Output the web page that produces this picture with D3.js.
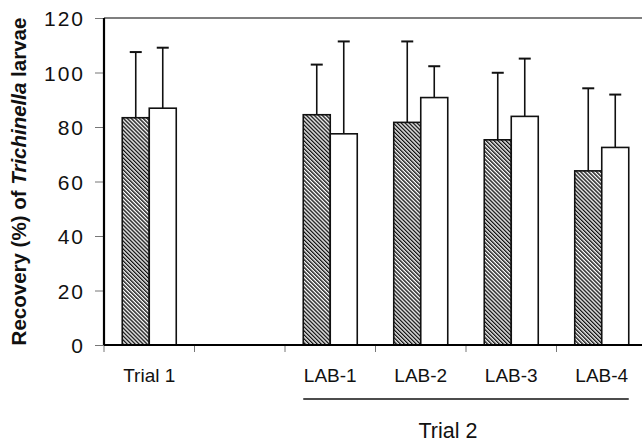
<!DOCTYPE html>
<html>
<head>
<meta charset="utf-8">
<script src="https://cdn.jsdelivr.net/npm/d3@7"></script>
<style>
  body { margin: 0; background: #fff; }
  text { font-family: "Liberation Sans", Arial, sans-serif; fill: #111; }
</style>
</head>
<body>
<div class="graph"></div>
<script>
// categories along the x axis (the blank one is the gap between trials)
var categories = ['Trial 1', '', 'LAB-1', 'LAB-2', 'LAB-3', 'LAB-4'];
var trial2 = ['LAB-1', 'LAB-2', 'LAB-3', 'LAB-4'];

// hatched series and open series, with the upper end of the error bars
var hatched = [83.4, null, 84.5, 81.7, 75.3, 63.9];
var hatchedErr = [107.5, null, 102.9, 111.4, 99.9, 94.2];
var open = [86.9, null, 77.5, 90.8, 83.9, 72.5];
var openErr = [109.1, null, 111.4, 102.3, 105.1, 91.9];

var yTicks = [0, 20, 40, 60, 80, 100, 120];

var width = 642, height = 443;
// note: "top" is taken by window.top, so use plot* names
var plotLeft = 104, plotRight = 647, plotTop = 18, plotBottom = 345;
var barW = 27;

var svg = d3.select('.graph')
  .append('svg')
  .attr('width', width)
  .attr('height', height);

// diagonal hatch fill
var pat = svg.append('defs').append('pattern')
  .attr('id', 'hatch')
  .attr('patternUnits', 'userSpaceOnUse')
  .attr('width', 2.8)
  .attr('height', 10)
  .attr('patternTransform', 'rotate(-45)');
pat.append('rect').attr('width', 2.8).attr('height', 10).attr('fill', '#fff');
pat.append('line')
  .attr('x1', 0.7).attr('x2', 0.7).attr('y1', 0).attr('y2', 10)
  .attr('stroke', '#111').attr('stroke-width', 1.4);

var x = d3.scaleBand()
  .domain(categories)
  .range([plotLeft, plotRight])
  .padding(0);

var y = d3.scaleLinear()
  .domain([0, 120])
  .range([plotBottom, plotTop]);

// top frame line
svg.append('line')
  .attr('x1', plotLeft).attr('x2', width)
  .attr('y1', y(120)).attr('y2', y(120))
  .attr('stroke', '#555').attr('stroke-width', 1.6);

// y axis
var yAxis = svg.append('g')
  .attr('transform', 'translate(' + plotLeft + ',0)')
  .call(d3.axisLeft(y).tickValues(yTicks).tickSize(9).tickPadding(10));
yAxis.select('.domain').remove();
yAxis.selectAll('.tick line').attr('stroke', '#777');
yAxis.selectAll('.tick text')
  .style('font-size', '21px')
  .style('letter-spacing', '2px')
  .attr('dy', '0.36em');

// x axis ticks at band edges
var edges = categories.map(function (c) { return x(c); });
svg.append('g')
  .selectAll('line')
  .data(edges)
  .enter()
  .append('line')
  .attr('x1', function (d) { return d; })
  .attr('x2', function (d) { return d; })
  .attr('y1', plotBottom)
  .attr('y2', plotBottom + 7)
  .attr('stroke', '#777')
  .attr('stroke-width', 1);

svg.append('g')
  .selectAll('text')
  .data(categories)
  .enter()
  .append('text')
  .attr('x', function (d) { return x(d) + x.bandwidth() / 2; })
  .attr('y', 381.5)
  .attr('text-anchor', 'middle')
  .style('font-size', '19px')
  .text(function (d) { return d; });

// bars
var g = svg.append('g');
categories.forEach(function (c, i) {
  var cx = x(c) + x.bandwidth() / 2;
  var sets = [
    { v: hatched[i], e: hatchedErr[i], x0: cx - barW, fill: 'url(#hatch)' },
    { v: open[i], e: openErr[i], x0: cx, fill: '#fff' }
  ];
  sets.forEach(function (s) {
    if (s.v == null) return;
    var mid = s.x0 + barW / 2;
    g.append('line')
      .attr('x1', mid).attr('x2', mid)
      .attr('y1', y(s.v)).attr('y2', y(s.e))
      .attr('stroke', '#111').attr('stroke-width', 1.6);
    g.append('line')
      .attr('x1', mid - 6).attr('x2', mid + 6)
      .attr('y1', y(s.e)).attr('y2', y(s.e))
      .attr('stroke', '#111').attr('stroke-width', 2);
    g.append('rect')
      .attr('x', s.x0)
      .attr('y', y(s.v))
      .attr('width', barW)
      .attr('height', y(0) - y(s.v))
      .attr('fill', s.fill)
      .attr('stroke', '#111')
      .attr('stroke-width', 1.6);
  });
});

// left and bottom axis lines
svg.append('line')
  .attr('x1', plotLeft).attr('x2', plotLeft)
  .attr('y1', y(120)).attr('y2', y(0))
  .attr('stroke', '#000').attr('stroke-width', 2.2);
svg.append('line')
  .attr('x1', plotLeft).attr('x2', width)
  .attr('y1', y(0)).attr('y2', y(0))
  .attr('stroke', '#000').attr('stroke-width', 2.2);

// Trial 2 bracket
var first = x(trial2[0]) + x.bandwidth() / 2 - barW;
var last = x(trial2[trial2.length - 1]) + x.bandwidth() / 2 + barW;
svg.append('line')
  .attr('x1', first).attr('x2', last)
  .attr('y1', 399).attr('y2', 399)
  .attr('stroke', '#111').attr('stroke-width', 1.6);
svg.append('text')
  .attr('x', 448)
  .attr('y', 438)
  .attr('text-anchor', 'middle')
  .style('font-size', '21.5px')
  .text('Trial 2');

// y axis title
var title = svg.append('text')
  .attr('transform', 'translate(26,' + ((plotTop + plotBottom) / 2) + ') rotate(-90)')
  .attr('text-anchor', 'middle')
  .style('font-size', '20.5px')
  .style('font-weight', 'bold');
title.append('tspan').text('Recovery (%) of ');
title.append('tspan').style('font-style', 'italic').text('Trichinella');
title.append('tspan').text(' larvae');
</script>
</body>
</html>
